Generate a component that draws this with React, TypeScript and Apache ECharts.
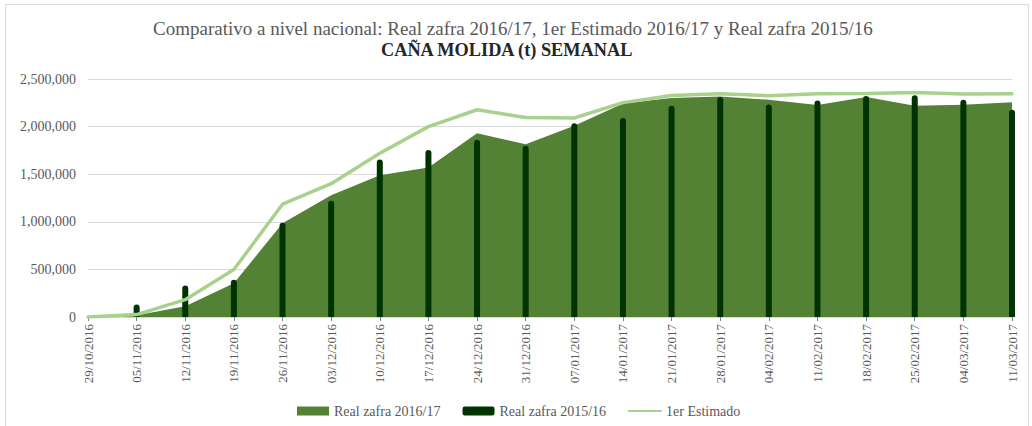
import React, { useEffect, useRef } from "react";
import * as echarts from "echarts";

const categories = [
  "29/10/2016", "05/11/2016", "12/11/2016", "19/11/2016", "26/11/2016",
  "03/12/2016", "10/12/2016", "17/12/2016", "24/12/2016", "31/12/2016",
  "07/01/2017", "14/01/2017", "21/01/2017", "28/01/2017", "04/02/2017",
  "11/02/2017", "18/02/2017", "25/02/2017", "04/03/2017", "11/03/2017",
];

const real201617 = [
  0, 18000, 112000, 355000, 985000, 1280000, 1490000, 1570000, 1930000, 1815000,
  2010000, 2242000, 2300000, 2316000, 2282000, 2228000, 2312000, 2220000, 2230000, 2256000,
];

const real201516 = [
  0, 130000, 330000, 392000, 990000, 1220000, 1655000, 1755000, 1862000, 1800000,
  2035000, 2090000, 2220000, 2310000, 2231000, 2275000, 2322000, 2328000, 2282000, 2177000,
];

const estimado = [
  0, 25000, 182000, 499000, 1185000, 1400000, 1720000, 2000000, 2177000, 2095000,
  2090000, 2252000, 2326000, 2346000, 2324000, 2346000, 2347000, 2358000, 2343000, 2346000,
];

const yTicks = { min: 0, max: 2500000, interval: 500000 };

const FONT = "Liberation Serif, Times New Roman, serif";

export default function App() {
  const ref = useRef<HTMLDivElement>(null);

  useEffect(() => {
    document.body.style.margin = "0";
    const chart = echarts.init(ref.current as HTMLDivElement, null, { renderer: "svg" });
    chart.setOption({
      animation: false,
      backgroundColor: "#ffffff",
      textStyle: { fontFamily: FONT },
      title: [
        {
          text: "Comparativo a nivel nacional: Real zafra 2016/17, 1er Estimado 2016/17 y Real zafra 2015/16",
          left: 148,
          top: 14,
          textStyle: { fontFamily: FONT, fontSize: 19, fontWeight: "normal", color: "#595959" },
        },
        {
          text: "CAÑA MOLIDA (t) SEMANAL",
          left: 376,
          top: 36,
          textStyle: { fontFamily: FONT, fontSize: 18.3, fontWeight: "bold", color: "#262626" },
        },
      ],
      graphic: [
        {
          type: "rect",
          shape: { x: 5.5, y: 4.5, width: 1023, height: 440 },
          style: { fill: "none", stroke: "#D9D9D9", lineWidth: 1 },
          silent: true,
          z: -10,
        },
      ],
      legend: {
        top: 399,
        left: 292,
        itemWidth: 32,
        itemHeight: 9,
        itemGap: 22,
        textStyle: { fontFamily: FONT, fontSize: 14, color: "#595959" },
        data: [
          { name: "Real zafra 2016/17", icon: "rect" },
          { name: "Real zafra 2015/16", icon: "roundRect" },
          { name: "1er Estimado", itemStyle: { opacity: 0 } },
        ],
      },
      grid: { left: 88, right: 20, top: 79, bottom: 109 },
      xAxis: {
        type: "category",
        data: categories,
        boundaryGap: false,
        axisLine: { show: true, lineStyle: { color: "#D9D9D9", width: 1 } },
        axisTick: { show: true, length: 4, lineStyle: { color: "#7F7F7F" } },
        axisLabel: {
          rotate: 90,
          fontFamily: FONT,
          fontSize: 13,
          color: "#595959",
          margin: 7,
          interval: 0,
        },
      },
      yAxis: {
        type: "value",
        min: yTicks.min,
        max: yTicks.max,
        interval: yTicks.interval,
        axisLine: { show: false },
        axisTick: { show: false },
        splitLine: { lineStyle: { color: "#D9D9D9", width: 1 } },
        axisLabel: {
          fontFamily: FONT,
          fontSize: 14,
          color: "#595959",
          margin: 12,
          formatter: (v: number) => v.toLocaleString("en-US"),
        },
      },
      series: [
        {
          name: "Real zafra 2016/17",
          type: "line",
          data: real201617,
          symbol: "none",
          showSymbol: false,
          lineStyle: { width: 0, color: "#548235" },
          itemStyle: { color: "#548235" },
          areaStyle: { color: "#548235", opacity: 1 },
          z: 1,
        },
        {
          name: "Real zafra 2015/16",
          type: "bar",
          data: real201516,
          barWidth: 6,
          itemStyle: { color: "#003300", borderRadius: [3, 3, 0, 0] },
          z: 2,
        },
        {
          name: "1er Estimado",
          type: "line",
          data: estimado,
          symbol: "none",
          showSymbol: false,
          lineStyle: { width: 3.5, color: "#A9D18E", cap: "round" },
          itemStyle: { color: "#A9D18E" },
          z: 3,
        },
      ],
    });
    return () => chart.dispose();
  }, []);

  return <div ref={ref} style={{ width: 1032, height: 426 }} />;
}
